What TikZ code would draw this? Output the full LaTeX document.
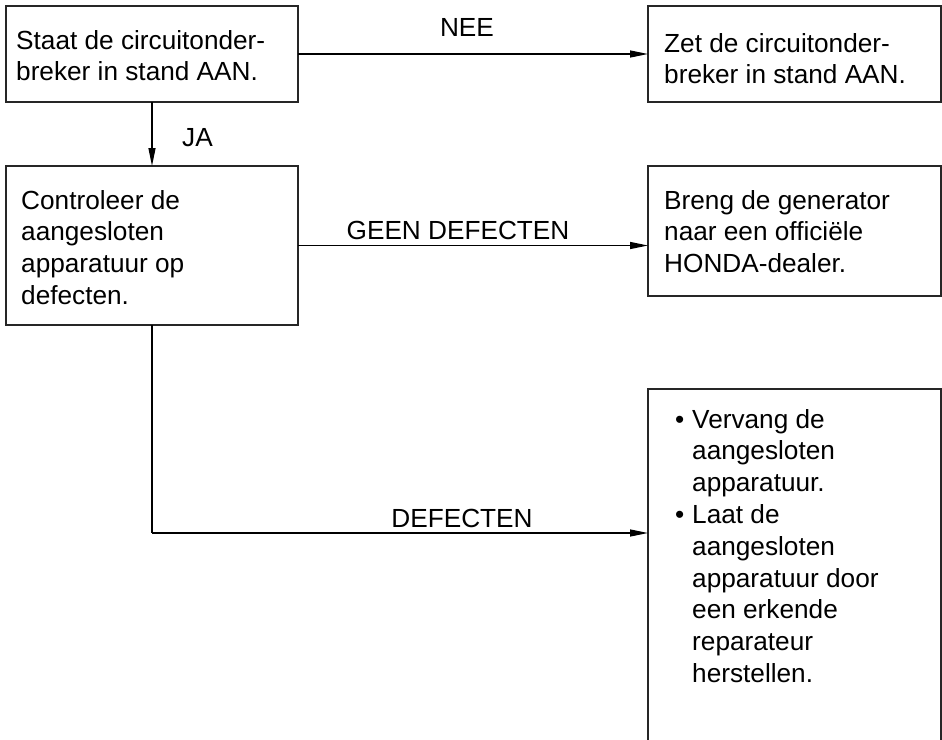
\documentclass[tikz,border=0pt]{standalone}
\usepackage{fontspec}
\setmainfont{Liberation Sans}
\usetikzlibrary{arrows.meta}
\begin{document}
\begin{tikzpicture}[x=1pt,y=-1pt,
  box/.style={draw=black!85, line width=1.6pt, anchor=north west, inner sep=0pt, outer sep=0pt, rectangle},
  txt/.style={anchor=north west, align=left, inner sep=0pt, font=\fontsize{26.2}{31.8}\selectfont},
  conn/.style={line width=1.3pt, -{Triangle[length=18pt,width=7pt]}},
  plain/.style={line width=1.3pt},
  lbl/.style={font=\fontsize{26.2}{31.8}\selectfont, inner sep=0pt, anchor=base}]
\useasboundingbox (0,0) rectangle (942,739);
% boxes
\node[box, minimum width=292pt, minimum height=96pt] (b1) at (6,6) {};
\node[box, minimum width=293pt, minimum height=96pt] (b2) at (648,6) {};
\node[box, minimum width=292pt, minimum height=159pt] (b3) at (6,166) {};
\node[box, minimum width=293pt, minimum height=130pt] (b4) at (648,166) {};
\node[box, minimum width=293pt, minimum height=400pt] (b5) at (648,389) {};
% texts
\node[txt] (t1) at (16,30) {Staat de circuitonder-\\breker in stand AAN.};
\node[txt] (t2) at (664,33) {Zet de circuitonder-\\breker in stand AAN.};
\node[txt] (t3) at (21,190) {Controleer de\\aangesloten\\apparatuur op\\defecten.};
\node[txt] (t4) at (664,190) {Breng de generator\\naar een offici\"ele\\HONDA-dealer.};
\node[txt] (t5) at (692,409) {\llap{•\hspace{8pt}}Vervang de\\aangesloten\\apparatuur.\\\llap{•\hspace{8pt}}Laat de\\aangesloten\\apparatuur door\\een erkende\\reparateur\\herstellen.};
% connectors
\coordinate (ylev) at (0,533);
\coordinate (c1) at (b3.south |- ylev);
\draw[conn] (b1.east) -- (b2.west);
\draw[conn] (b1.south) -- (b3.north);
\draw[conn] (b3.east) -- (b3.east -| b4.west);
\draw[plain] (b3.south) -- (c1);
\draw[conn] (c1) -- (c1 -| b5.west);
% labels
\node[lbl] (lnee) at (467,36) {NEE};
\node[lbl, anchor=base west] (lja) at (182,146) {JA};
\node[lbl] (lgeen) at (458,239) {GEEN DEFECTEN};
\node[lbl] (ldef) at (462,527) {DEFECTEN};
\end{tikzpicture}
\end{document}
